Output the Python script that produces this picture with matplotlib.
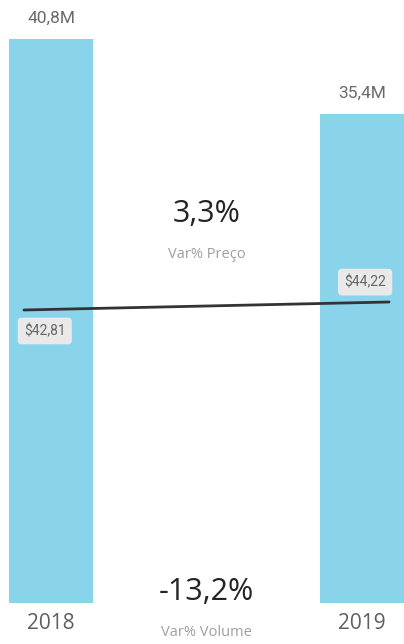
import matplotlib
matplotlib.use('Agg')
import matplotlib.pyplot as plt

# volume e preço por ano
years = ["2018", "2019"]
volume_m = [40.8, 35.4]
price = [42.81, 44.22]
var_price = "3,3%"
var_volume = "-13,2%"

bar_color = "#8ad4eb"
label_gray = "#605e5c"
dark = "#252423"
light_gray = "#a19f9d"


def br(v, dec=2):
    return f"{v:.{dec}f}".replace(".", ",")


fig = plt.figure(figsize=(4.04, 6.44), dpi=100)
ax = fig.add_axes([0, 0, 1, 1])
ax.set_xlim(-0.164, 1.135)
ax.set_ylim(-2.966, 43.62)
ax.axis("off")

pos = list(range(len(years)))
ax.bar(pos, volume_m, width=0.27, color=bar_color)

for x, v, yr in zip(pos, volume_m, years):
    ax.text(x, v + 1.5, br(v, 1) + "M", ha="center", va="center",
            fontsize=12.5, color="#6a6a6a", family="Roboto")
    ax.text(x, -1.5, yr, ha="center", va="center", fontsize=15,
            color=label_gray, family="Open Sans")

# linha de preço em eixo secundário
ax2 = ax.twinx()
ax2.set_ylim(-16.05, 97.44)
ax2.axis("off")
ext = 0.087
ax2.plot([pos[0] - ext, pos[1] + ext], price, color="#333333", linewidth=2,
         solid_capstyle="round")

box = dict(boxstyle="round,pad=0.45,rounding_size=0.3", fc="#e9e9e9", ec="none")
ax2.text(pos[0] - 0.02, price[0] - 3.7, "$" + br(price[0]), ha="center", va="center",
         fontsize=10, color="#666666", family="Roboto", bbox=box)
ax2.text(pos[1] + 0.01, price[1] + 3.5, "$" + br(price[1]), ha="center", va="center",
         fontsize=10, color="#666666", family="Roboto", bbox=box)

# KPIs de variação
mid = (pos[0] + pos[1]) / 2
tr = ax.get_xaxis_transform()
ax.text(mid, 1 - 214 / 644, var_price, transform=tr, ha="center", va="center",
        fontsize=22, color=dark, family="Open Sans")
ax.text(mid, 1 - 255 / 644, "Var% Preço", transform=tr, ha="center", va="center",
        fontsize=10.5, color=light_gray, family="Open Sans")
ax.text(mid, 1 - 592 / 644, var_volume, transform=tr, ha="center", va="center",
        fontsize=22, color=dark, family="Open Sans")
ax.text(mid, 1 - 632 / 644, "Var% Volume", transform=tr, ha="center", va="center",
        fontsize=10.5, color=light_gray, family="Open Sans")

fig.savefig("out.png", dpi=100, facecolor="white")
